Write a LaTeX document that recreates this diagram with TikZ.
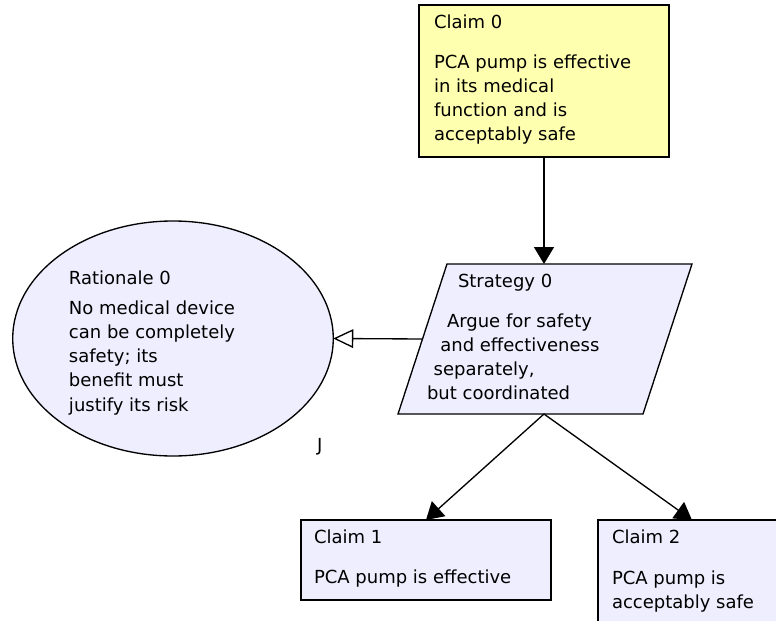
\documentclass[tikz,border=0pt]{standalone}
\usepackage{fontspec}
\setmainfont{DejaVu Sans}
\usetikzlibrary{arrows.meta,shapes.geometric}

\definecolor{claimyellow}{RGB}{255,255,176}
\definecolor{nodelav}{RGB}{238,238,255}

% stacked text lines with a fixed line pitch; baseline = first line
\newcommand\gsnlines[1]{\vtop{\baselineskip=18.2pt\lineskiplimit=-20pt\lineskip=0pt
  \halign{##\hfil\cr#1\crcr}}}

\begin{document}
\begin{tikzpicture}[x=0.75pt,y=-0.75pt,
  every node/.style={inner sep=0pt, outer sep=0pt},
  shapebox/.style={draw=black, line width=1pt},
  txt/.style={anchor=base west, font=\fontsize{13.5}{18.2}\selectfont},
  link/.style={draw=black, line width=1pt},
  solidhead/.style={-{Triangle[length=12.75pt,width=15pt]}},
  openhead/.style={-{Triangle[open,length=15pt,width=14pt]}}]

\useasboundingbox (0,0) rectangle (776,621);
\clip (0,0) rectangle (776,621);

% goal and rationale shapes
\node[shapebox, fill=claimyellow, minimum width=187.5pt, minimum height=114pt] (c0) at (544,81) {};
\node[shapebox, ellipse, fill=nodelav, minimum width=240.4pt, minimum height=176.25pt] (r0) at (173,338.5) {};

% strategy parallelogram
\coordinate (s0tl) at (447,264);
\coordinate (s0tr) at (692,264);
\coordinate (s0br) at (643,414);
\coordinate (s0bl) at (398,414);
\coordinate (s0top) at (544,264);
\coordinate (s0bot) at (544,414);
\coordinate (s0left) at (422.5,339);
\draw[shapebox, fill=nodelav] (s0tl) -- (s0tr) -- (s0br) -- (s0bl) -- cycle;

% sub-claims
\node[shapebox, fill=nodelav, minimum width=187.5pt, minimum height=60pt] (c1) at (426,560) {};
\node[shapebox, fill=nodelav, minimum width=141pt, minimum height=90pt] (c2) at (692,580) {};

% connectors
\draw[link, solidhead] (c0.south) -- (s0top);
\draw[link, openhead] (s0left) -- (r0.east);
\draw[link, solidhead] (s0bot) -- (c1.north);
\draw[link, solidhead] (s0bot) -- (c2.north);

% texts
\node[txt] (c0title) at (434,28) {Claim 0};
\node[txt] (c0body) at (434,68) {\gsnlines{PCA pump is effective\cr in its medical\cr function and is\cr acceptably safe}};

\node[txt] (r0title) at (69,284) {Rationale 0};
\node[txt] (r0body) at (69,314) {\gsnlines{No medical device\cr can be completely\cr safety; its\cr benefit must\cr justify its risk}};
\node[txt] (r0mark) at (317,451) {J};

\node[txt] (s0title) at (458,287) {Strategy 0};
\node[txt] (s0body) at (427,327) {\gsnlines{\kern15pt Argue for safety\cr \kern10pt and effectiveness\cr \kern5pt separately,\cr but coordinated}};

\node[txt] (c1title) at (314,543) {Claim 1};
\node[txt] (c1body) at (314,583) {PCA pump is effective};

\node[txt] (c2title) at (612,543) {Claim 2};
\node[txt] (c2body) at (612,584) {\gsnlines{PCA pump is\cr acceptably safe}};
\end{tikzpicture}
\end{document}
